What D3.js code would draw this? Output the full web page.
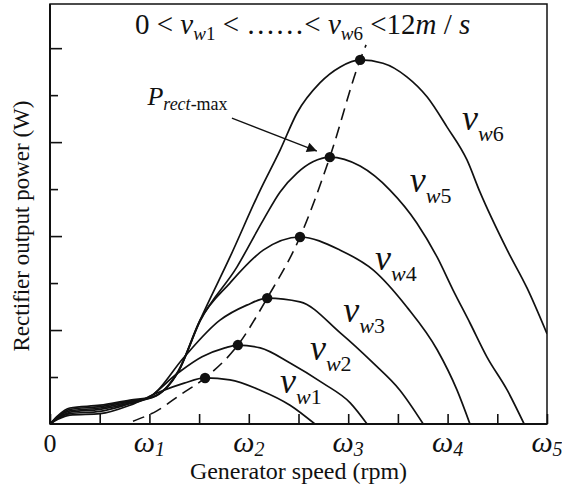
<!DOCTYPE html>
<html><head><meta charset="utf-8">
<script src="https://cdn.jsdelivr.net/npm/d3@7"></script>
<style>
body{margin:0;background:#fff}
svg{display:block}
</style>
</head><body><svg id="c" width="562" height="490" font-family="'Liberation Serif', 'DejaVu Serif', serif"></svg>
<script>
// ---- data (speed in tick units, omega_k = 2k; power in tick units) ----
const tickValuesX = [0,1,2,3,4,5,6,7,8,9,10];
const tickLabelPos = [0,2,4,6,8,10];
const tickLabelMain = ["0","ω","ω","ω","ω","ω"];
const tickLabelSub = ["","1","2","3","4","5"];
const tickValuesY = [1,2,3,4,5,6,7,8];

const vw1Speed = [0,0.16,0.40,1.01,1.61,2.20,2.70,3.12,3.62,4.23,4.83,5.33];
const vw1Power = [0,0.10,0.19,0.22,0.40,0.68,0.87,0.98,0.94,0.72,0.40,0];
const vw2Speed = [0,0.16,0.40,1.01,1.61,1.91,2.58,3.06,3.52,3.78,4.23,4.83,5.49,6.04,6.38];
const vw2Power = [0,0.12,0.22,0.27,0.43,0.52,1.09,1.43,1.62,1.68,1.62,1.30,0.87,0.45,0];
const vw3Speed = [0,0.16,0.40,1.01,1.61,2.07,2.68,3.42,3.96,4.37,5.03,5.84,6.50,7.04,7.51];
const vw3Power = [0,0.13,0.25,0.31,0.45,0.62,1.40,2.21,2.53,2.68,2.60,1.94,1.30,0.72,0];
const vw4Speed = [0,0.16,0.40,1.01,1.61,2.07,2.58,3.02,3.62,4.29,5.03,5.84,6.50,7.18,7.79,8.19,8.45];
const vw4Power = [0,0.15,0.28,0.34,0.47,0.57,1.11,2.21,3.00,3.70,3.98,3.70,3.28,2.49,1.58,0.72,0];
const vw5Speed = [0,0.16,0.40,1.01,1.61,2.07,2.58,3.02,3.76,4.29,4.63,4.97,5.29,5.63,6.24,6.84,7.38,7.79,8.11,8.45,8.79,9.20,9.54];
const vw5Power = [0,0.16,0.31,0.37,0.49,0.57,1.11,2.19,3.34,4.34,4.94,5.34,5.58,5.68,5.49,4.98,4.28,3.55,2.85,2.15,1.43,0.72,0];
const vw6Speed = [0,0.16,0.40,1.01,1.61,2.07,2.58,3.02,3.62,4.23,4.63,4.97,5.43,5.84,6.24,6.70,7.18,7.59,7.99,8.39,8.65,9.20,9.60,10.0];
const vw6Power = [0,0.18,0.34,0.40,0.51,0.58,1.13,2.21,3.55,4.98,5.83,6.62,7.26,7.60,7.75,7.68,7.39,6.96,6.32,5.62,4.94,3.70,2.89,1.92];

const mppSpeed = [1.67,2.15,2.62,3.12,3.78,4.37,5.03,5.63,6.24,6.36];
const mppPower = [0.06,0.28,0.62,0.98,1.68,2.68,3.98,5.68,7.75,8.07];

const peakSpeed = [3.12,3.78,4.37,5.03,5.63,6.24];
const peakPower = [0.98,1.68,2.68,3.98,5.68,7.75];

const seriesNames = ["1","2","3","4","5","6"];
const labelSpeed = [4.63,5.23,5.90,6.54,7.24,8.29];
const labelPower = [0.66,1.36,2.17,3.28,4.94,6.26];

const arrowFrom = [3.66,6.51];
const arrowTo = [5.37,5.81];
const pLabelAt = [1.96,6.79];

// ---- drawing ----
const svg = d3.select("#c");
const x = d3.scaleLinear().domain([0,10]).range([50,547]);
const y = d3.scaleLinear().domain([0,8.94]).range([424,4]);

const series = [
  d3.zip(vw1Speed,vw1Power), d3.zip(vw2Speed,vw2Power), d3.zip(vw3Speed,vw3Power),
  d3.zip(vw4Speed,vw4Power), d3.zip(vw5Speed,vw5Power), d3.zip(vw6Speed,vw6Power)
];

svg.append("defs").append("clipPath").attr("id","clip")
  .append("rect").attr("x",x(0)).attr("y",y(8.94)).attr("width",x(10)-x(0)).attr("height",y(0)-y(8.94));

// axes
const xAxis = svg.append("g").attr("transform",`translate(0,${y(0)})`)
  .call(d3.axisBottom(x).tickValues(tickValuesX).tickSize(-10).tickFormat(""));
const yAxis = svg.append("g").attr("transform",`translate(${x(0)},0)`)
  .call(d3.axisLeft(y).tickValues(tickValuesY).tickSize(-12).tickFormat(""));
[xAxis,yAxis].forEach(g=>{
  g.select(".domain").remove();
  g.selectAll(".tick line").attr("stroke","#111").attr("stroke-width",1.6);
});
yAxis.selectAll(".tick line").attr("x2",d=> d%2===0 ? 12 : 8);

// frame
svg.append("rect").attr("x",x(0)).attr("y",y(8.94)).attr("width",x(10)-x(0)).attr("height",y(0)-y(8.94))
  .attr("fill","none").attr("stroke","#111").attr("stroke-width",1.5);
svg.append("line").attr("x1",x(0)).attr("x2",x(10)).attr("y1",y(0)).attr("y2",y(0)).attr("stroke","#111").attr("stroke-width",2.2);
svg.append("line").attr("x1",x(0)).attr("x2",x(0)).attr("y1",y(0)).attr("y2",y(8.94)).attr("stroke","#111").attr("stroke-width",2);

const line = d3.line().x(d=>x(d[0])).y(d=>y(d[1])).curve(d3.curveMonotoneX);
const plot = svg.append("g").attr("clip-path","url(#clip)");
plot.selectAll("path.curve").data(series).join("path").attr("class","curve")
  .attr("d",line).attr("fill","none").attr("stroke","#111").attr("stroke-width",1.7);

plot.append("path").datum(d3.zip(mppSpeed,mppPower)).attr("d",line)
  .attr("fill","none").attr("stroke","#111").attr("stroke-width",1.6).attr("stroke-dasharray","12,7");

plot.selectAll("circle").data(d3.zip(peakSpeed,peakPower)).join("circle")
  .attr("cx",d=>x(d[0])).attr("cy",d=>y(d[1])).attr("r",5.2).attr("fill","#111");

// arrow
svg.append("defs").append("marker").attr("id","ah").attr("viewBox","0 0 10 10")
  .attr("refX",10).attr("refY",5).attr("markerWidth",17).attr("markerHeight",10)
  .attr("markerUnits","userSpaceOnUse").attr("orient","auto")
  .append("path").attr("d","M0,0L10,5L0,10z").attr("fill","#111");
svg.append("line").attr("x1",x(arrowFrom[0])).attr("y1",y(arrowFrom[1]))
  .attr("x2",x(arrowTo[0])).attr("y2",y(arrowTo[1]))
  .attr("stroke","#111").attr("stroke-width",1.3).attr("marker-end","url(#ah)");

const T = (sel)=>sel.attr("font-family","'Liberation Serif', 'DejaVu Serif', serif").attr("fill","#111");

// P_rect-max label
const pl = svg.append("text").call(T).attr("x",x(pLabelAt[0])).attr("y",y(pLabelAt[1])).attr("font-size",26);
pl.append("tspan").attr("font-style","italic").text("P");
pl.append("tspan").attr("font-size",18).attr("dy",5).attr("font-style","italic").text("rect");
pl.append("tspan").attr("font-size",18).text("-max");

// curve labels
seriesNames.forEach((n,i)=>{
  const t = svg.append("text").call(T).attr("x",x(labelSpeed[i])).attr("y",y(labelPower[i])).attr("font-size",36);
  t.append("tspan").attr("font-style","italic").text("v");
  t.append("tspan").attr("font-size",22).attr("dy",11).attr("font-style","italic").text("w");
  t.append("tspan").attr("font-size",22).text(n);
});

// title
const tt = svg.append("text").call(T).attr("x",x(1.71)).attr("y",34).attr("font-size",29);
tt.append("tspan").text("0 < ");
tt.append("tspan").attr("font-style","italic").text("v");
tt.append("tspan").attr("font-size",19).attr("dy",6).attr("font-style","italic").text("w");
tt.append("tspan").attr("font-size",19).text("1");
tt.append("tspan").attr("dy",-6).text(" < ……< ");
tt.append("tspan").attr("font-style","italic").text("v");
tt.append("tspan").attr("font-size",19).attr("dy",6).attr("font-style","italic").text("w");
tt.append("tspan").attr("font-size",19).text("6");
tt.append("tspan").attr("dy",-6).text(" <12");
tt.append("tspan").attr("font-style","italic").text("m");
tt.append("tspan").text(" / ");
tt.append("tspan").attr("font-style","italic").text("s");

// tick labels
tickLabelPos.forEach((v,i)=>{
  const t = svg.append("text").call(T).attr("x",x(v)).attr("y",452).attr("text-anchor","middle").attr("font-size",26);
  if(tickLabelSub[i]===""){ t.text(tickLabelMain[i]); }
  else{
    t.append("tspan").attr("font-style","italic").attr("font-size",30).text(tickLabelMain[i]);
    t.append("tspan").attr("font-style","italic").attr("font-size",20).attr("dy",4).text(tickLabelSub[i]);
  }
});

// axis titles
svg.append("text").call(T).attr("x",(x(0)+x(10))/2).attr("y",479).attr("text-anchor","middle").attr("font-size",24)
  .text("Generator speed (rpm)");
svg.append("text").call(T).attr("transform",`translate(29,${(y(0)+y(8.94))/2+12}) rotate(-90)`)
  .attr("text-anchor","middle").attr("font-size",23).text("Rectifier output power (W)");
</script>
</body></html>
